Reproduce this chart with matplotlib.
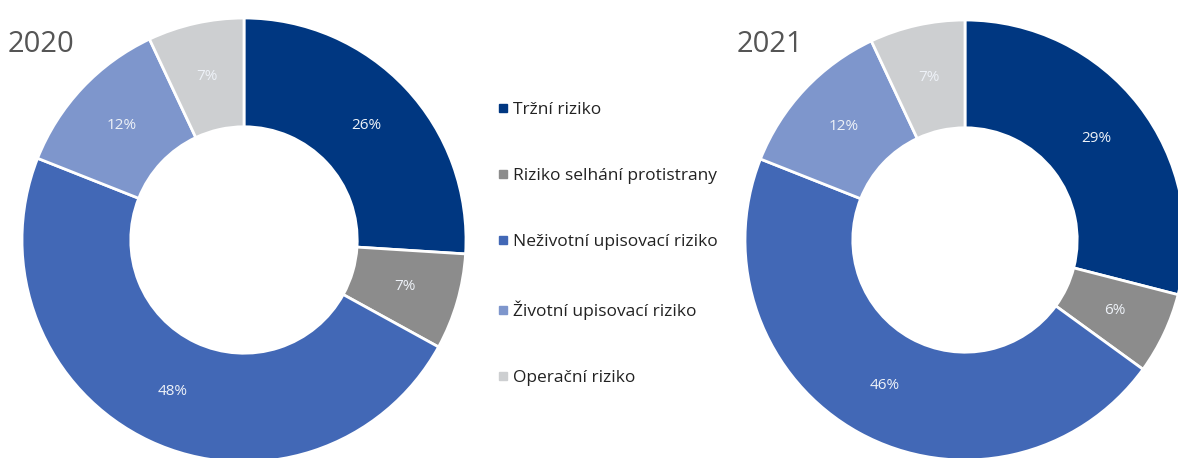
import matplotlib
matplotlib.use("Agg")
import matplotlib.pyplot as plt
from matplotlib.lines import Line2D

categories = ["Tržní riziko", "Riziko selhání protistrany", "Neživotní upisovací riziko",
              "Životní upisovací riziko", "Operační riziko"]
values_2020 = [26, 7, 48, 12, 7]
values_2021 = [29, 6, 46, 12, 7]
years = ["2020", "2021"]

colors = ["#003781", "#8c8c8c", "#4268b6", "#7e96cc", "#cdcfd1"]

plt.rcParams["font.family"] = ["Open Sans", "DejaVu Sans"]

W, H = 1178, 458
fig = plt.figure(figsize=(W / 100, H / 100), dpi=100)


def donut(cx, cy, r, values):
    # cx, cy, r in pixels (cy from top)
    ax = fig.add_axes([(cx - r) / W, (H - cy - r) / H, 2 * r / W, 2 * r / H])
    wedges, texts, autotexts = ax.pie(
        values, colors=colors, startangle=90, counterclock=False,
        autopct=lambda p: "%d%%" % round(p), pctdistance=0.755,
        wedgeprops=dict(width=0.49, edgecolor="white", linewidth=2),
        radius=1)
    for t in autotexts:
        t.set_color("#eef2f8")
        t.set_fontsize(11)
    ax.set_xlim(-1, 1)
    ax.set_ylim(-1, 1)
    ax.set_aspect("equal")
    ax.axis("off")
    return ax


donut(244, 240, 222, values_2020)
donut(965, 240, 220, values_2021)

fig.text(8 / W, 1 - 52 / H, years[0], fontsize=21, color="#555555", va="baseline")
fig.text(737 / W, 1 - 52 / H, years[1], fontsize=21, color="#555555", va="baseline")

handles = [Line2D([0], [0], marker="s", linestyle="none", markersize=5.5,
                  markerfacecolor=c, markeredgecolor=c) for c in colors]
fs = 12.5
leg = fig.legend(handles, categories, loc="upper left",
                 bbox_to_anchor=(499 / W, 1 - 102 / H), frameon=False,
                 fontsize=fs, handlelength=0.45, handletextpad=0.35,
                 labelspacing=2.88, borderpad=0, borderaxespad=0)
for t in leg.get_texts():
    t.set_color("#222222")

fig.savefig("out.png", dpi=100)
